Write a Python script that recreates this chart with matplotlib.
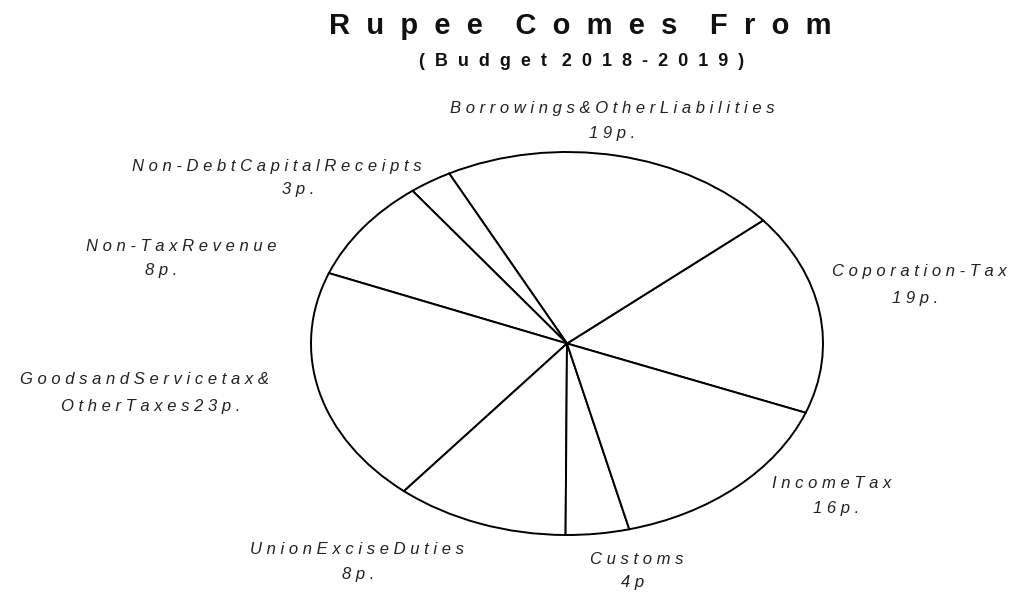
import matplotlib
matplotlib.use("Agg")
import matplotlib.pyplot as plt

# ---------------- data ----------------
sources = ["Coporation-Tax", "Borrowings & Other Liabilities", "Non-Debt Capital Receipts",
           "Non-Tax Revenue", "Goods and Service tax & Other Taxes", "Union Excise Duties",
           "Customs", "Income Tax"]
paise = [19, 19, 3, 8, 23, 8, 4, 16]
# angular share of each slice as it is drawn in the reference (percent of full circle)
drawn_share = [17.0, 21.5, 2.7, 8.7, 20.0, 10.9, 4.0, 15.2]

label_line1 = ["Coporation-Tax", "Borrowings & Other Liabilities", "Non-Debt Capital Receipts",
               "Non-Tax Revenue", "Goods and Service tax &", "Union Excise Duties",
               "Customs", "Income Tax"]
label_line2 = ["{}p.", "{}p.", "{}p.", "{}p.", "Other Taxes {}p.", "{}p.", "{}p", "{}p."]

title = "Rupee Comes From"
subtitle = "(Budget 2018-2019)"

# ---------------- layout ----------------
W, H = 1015, 593
fig = plt.figure(figsize=(W / 100, H / 100), dpi=100)
fig.patch.set_facecolor("white")
FAM = ["Liberation Sans", "DejaVu Sans"]


def px(x, y):
    return x / W, 1 - y / H


def spaced(s, gap=" ", word_gap=" "):
    return word_gap.join(gap.join(w) for w in s.split(" "))


# pie drawn as ellipse: axes box = ellipse bounding box
left, right, top, bottom = 311, 823, 152, 535
ax = fig.add_axes([left / W, 1 - bottom / H, (right - left) / W, (bottom - top) / H])
ax.pie(drawn_share, startangle=-21.2, counterclock=True, radius=1,
       colors=["white"] * len(drawn_share),
       wedgeprops=dict(edgecolor="black", linewidth=1.4, clip_on=False))
ax.set_aspect("auto")
ax.set_xlim(-1, 1)
ax.set_ylim(-1, 1)
ax.axis("off")

# title
fig.text(*px(580, 26), spaced(title, "  ", "    "), ha="center", va="center",
         fontsize=21, fontweight="bold", family=FAM, color="#111111")
fig.text(*px(582, 62), spaced(subtitle, "  ", "   "), ha="center", va="center",
         fontsize=13, fontweight="bold", family=FAM, color="#111111")

# labels
pos1 = [(919, 272), (612, 108), (277, 166), (181, 246), (145, 380), (357, 550), (637, 559), (832, 484)]
pos2 = [(915, 298), (612, 133), (298, 190), (161, 271), (151, 406), (358, 575), (633, 583), (836, 508)]
for i in range(len(sources)):
    l1 = spaced(label_line1[i].replace(" ", ""), " ")
    l2 = spaced(label_line2[i].format(paise[i]).replace(" ", ""), " ")
    fig.text(*px(*pos1[i]), l1, ha="center", va="center", fontsize=12,
             style="italic", family=FAM, color="#222222")
    fig.text(*px(*pos2[i]), l2, ha="center", va="center", fontsize=12,
             style="italic", family=FAM, color="#222222")

fig.savefig("out.png", dpi=100, facecolor="white")
